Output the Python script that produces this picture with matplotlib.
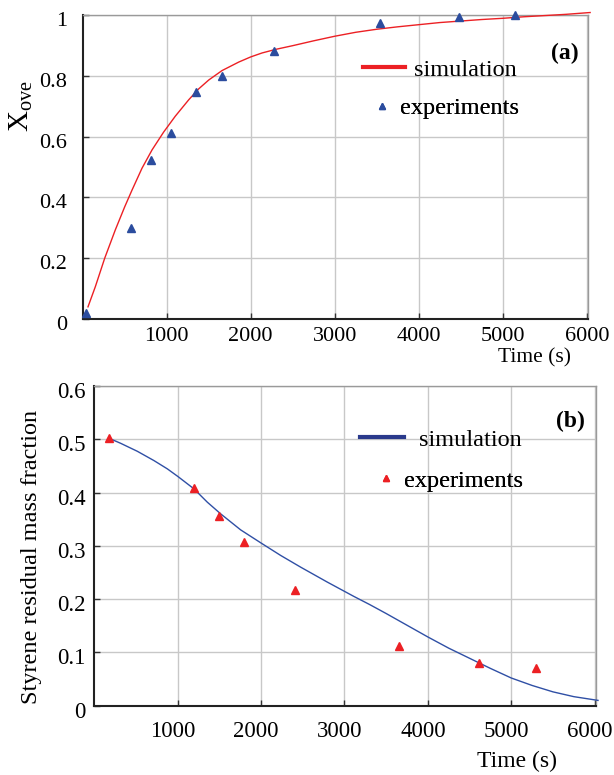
import numpy as np
import matplotlib
matplotlib.use('Agg')
import matplotlib.pyplot as plt
from matplotlib.transforms import ScaledTranslation

plt.rcParams['font.family'] = ['Liberation Serif', 'DejaVu Serif']
plt.rcParams['mathtext.fontset'] = 'custom'
plt.rcParams['mathtext.rm'] = 'Liberation Serif'
plt.rcParams['mathtext.it'] = 'Liberation Serif:italic'

# panel (a): overall conversion vs time
t_sim_a = [63, 150, 262, 388, 500, 587, 706, 825, 964, 1102, 1262, 1381, 1500,
           1658, 1857, 2000, 2135, 2300, 2500, 2750, 3000, 3250, 3500, 3750,
           4000, 4250, 4500, 4750, 5000, 5250, 5500, 5750, 6040]
x_sim_a = [0.040, 0.106, 0.200, 0.293, 0.369, 0.424, 0.496, 0.556, 0.615, 0.667,
           0.721, 0.757, 0.786, 0.817, 0.845, 0.862, 0.875, 0.887, 0.899, 0.915,
           0.930, 0.943, 0.953, 0.961, 0.968, 0.975, 0.980, 0.985, 0.989, 0.994,
           0.998, 1.002, 1.008]
t_exp_a = [36, 571, 817, 1055, 1353, 1658, 2276, 3533, 4483, 5150]
x_exp_a = [0.020, 0.300, 0.523, 0.611, 0.748, 0.800, 0.880, 0.973, 0.993, 0.999]

# panel (b): styrene residual mass fraction vs time
t_sim_b = [176, 316, 516, 716, 876, 1004, 1195, 1355, 1516, 1755, 2003, 2235,
           2475, 2794, 3114, 3300, 3500, 3750, 4000, 4250, 4500, 4750, 5000,
           5250, 5500, 5750, 6040]
w_sim_b = [0.502, 0.4925, 0.4775, 0.460, 0.4445, 0.430, 0.407, 0.382, 0.360,
           0.330, 0.305, 0.282, 0.260, 0.232, 0.205, 0.190, 0.173, 0.151, 0.129,
           0.108, 0.089, 0.070, 0.052, 0.038, 0.026, 0.017, 0.010]
t_exp_b = [176, 1195, 1499, 1799, 2406, 3652, 4616, 5298]
w_exp_b = [0.502, 0.408, 0.356, 0.307, 0.218, 0.113, 0.081, 0.070]

x_ticks = [1000, 2000, 3000, 4000, 5000, 6000]
y_ticks_a = [0, 0.2, 0.4, 0.6, 0.8, 1.0]
y_labels_a = ['0', '0.2', '0.4', '0.6', '0.8', '1']
y_ticks_b = [0, 0.1, 0.2, 0.3, 0.4, 0.5, 0.6]
y_labels_b = ['0', '0.1', '0.2', '0.3', '0.4', '0.5', '0.6']

red = '#ec2024'
blue = '#2f4fa5'

fig = plt.figure(figsize=(6.14, 7.75), dpi=100)
ax1 = fig.add_axes([0.1347, 0.5884, 0.823, 0.3923])
ax2 = fig.add_axes([0.1536, 0.0894, 0.8163, 0.4125])


def style(ax, yt, yl, xmax, ymax, fs, xpad, ypad, dy, dx=0):
    ax.set_xlim(0, xmax)
    ax.set_ylim(0, ymax)
    ax.set_xticks(x_ticks)
    ax.set_xticklabels([str(v) for v in x_ticks])
    ax.set_yticks(yt)
    ax.set_yticklabels(yl)
    ax.grid(True, color='#c8c8c8', lw=1.0)
    ax.set_axisbelow(True)
    for s in ['top', 'right']:
        ax.spines[s].set_color('#9a9a9a')
        ax.spines[s].set_linewidth(1.0)
    for s in ['left', 'bottom']:
        ax.spines[s].set_color('#222222')
        ax.spines[s].set_linewidth(1.5)
    ax.tick_params(axis='x', direction='in', length=4, width=1, color='#333333',
                   labelsize=fs, pad=xpad)
    ax.tick_params(axis='y', direction='in', length=4, width=1, color='#333333',
                   labelsize=fs, pad=ypad)
    # labels in the original sit a little below their grid lines
    off = ScaledTranslation(0, -dy / 100, fig.dpi_scale_trans)
    for lab in ax.get_yticklabels():
        lab.set_transform(lab.get_transform() + off)
    if dx:
        offx = ScaledTranslation(dx / 100, 0, fig.dpi_scale_trans)
        for lab in ax.get_xticklabels():
            lab.set_transform(lab.get_transform() + offx)


style(ax1, y_ticks_a, y_labels_a, 6015, 1.0, 16, 6, 11, 4)
style(ax2, y_ticks_b, y_labels_b, 6010, 0.6, 16.5, 11, 6, 4, dx=-5)

# panel (a)
ax1.plot(t_sim_a, x_sim_a, color=red, lw=1.0, clip_on=False, zorder=3)
ax1.plot(t_exp_a, x_exp_a, ls='none', marker='^', ms=5.5, color='#2b4c9e',
         clip_on=False, zorder=4)
ax1.text(0.955, 0.875, '(a)', transform=ax1.transAxes, fontsize=17,
         fontweight='bold', ha='center', va='center')

# panel (b)
ax2.plot(t_sim_b, w_sim_b, color=blue, lw=1.0, clip_on=False, zorder=3)
ax2.plot(t_exp_b, w_exp_b, ls='none', marker='^', ms=5.5, color=red,
         clip_on=False, zorder=4)
ax2.text(0.95, 0.89, '(b)', transform=ax2.transAxes, fontsize=17,
         fontweight='bold', ha='center', va='center')


# one small legend per entry, since the labels do not line up in the original
def add_legend(ax, handle, label, x, y, hl, pad):
    leg = ax.legend([handle], [label], loc='center left', bbox_to_anchor=(x, y),
                    bbox_transform=fig.transFigure, frameon=False, fontsize=17.5,
                    handlelength=hl, handletextpad=pad, borderpad=0,
                    borderaxespad=0)
    ax.add_artist(leg)


h_sim_a, = ax1.plot([], [], color=red, lw=3)
h_exp_a, = ax1.plot([], [], ls='none', marker='^', ms=4.5, color='#2b4c9e')
add_legend(ax1, h_sim_a, 'simulation', 0.5912, 0.9097, 1.73, 0.37)
add_legend(ax1, h_exp_a, 'experiments', 0.6098, 0.8606, 0.6, 0.45)

h_sim_b, = ax2.plot([], [], color='#2a3a8c', lw=3)
h_exp_b, = ax2.plot([], [], ls='none', marker='^', ms=5, color=red)
add_legend(ax2, h_sim_b, 'simulation', 0.5863, 0.4325, 1.81, 0.62)
add_legend(ax2, h_exp_b, 'experiments', 0.6163, 0.3794, 0.6, 0.45)

# axis titles
fig.text(0.035, 0.863, r'X$_{\rm ove}$', rotation=90, fontsize=21,
         ha='center', va='center')
fig.text(0.871, 0.538, 'Time (s)', fontsize=15.5, ha='center', va='center')
fig.text(0.0505, 0.281, 'Styrene residual mass fraction', rotation=90,
         fontsize=17.5, ha='center', va='center')
fig.text(0.842, 0.004, 'Time (s)', fontsize=17, ha='center', va='bottom')

fig.savefig('out.png', dpi=100)
